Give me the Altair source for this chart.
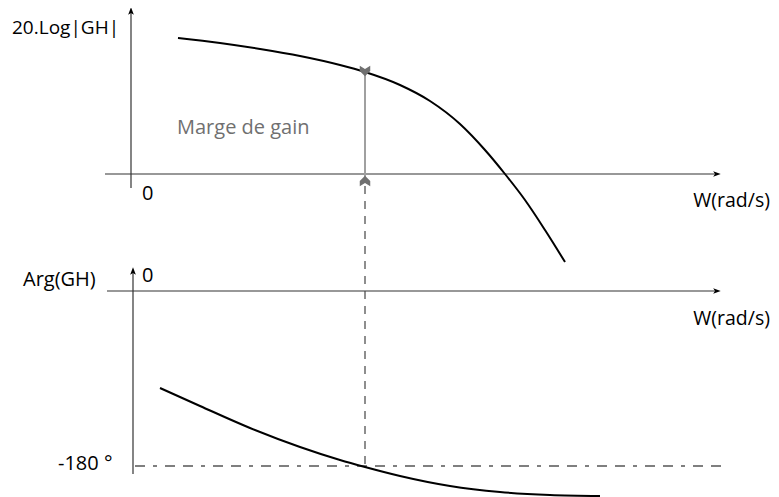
import altair as alt
import pandas as pd

# --- gain curve (top panel) (pixel-like units)
gain_x = [178, 220, 260, 300, 340, 365, 400, 430, 460, 485, 505, 525, 545, 565]
gain_y = [38, 43, 49, 56, 65, 72, 85, 101, 124, 150, 174, 200, 230, 262]

# --- phase curve (bottom panel)
phase_x = [160, 200, 250, 300, 340, 365, 400, 450, 500, 550, 600]
phase_y = [388, 406, 428, 447, 460, 467, 476, 486, 492, 495, 496]

# axis segments: x1, y1, x2, y2
axis_x1 = [105, 131, 107, 133]
axis_y1 = [174, 188, 291, 474]
axis_x2 = [716, 131, 716, 133]
axis_y2 = [174, 12, 291, 272]

# marge de gain (grey) segment
marge_x1 = [365]; marge_y1 = [72]; marge_x2 = [365]; marge_y2 = [182]
# dashed vertical
dash_x1 = [365]; dash_y1 = [186]; dash_x2 = [365]; dash_y2 = [466]
# -180 dash-dot line
ref_x1 = [135]; ref_y1 = [466]; ref_x2 = [726]; ref_y2 = [466]

# axis arrow heads
arrow_x = [716, 131, 716, 133]
arrow_y = [174, 12, 291, 272]
arrow_angle = [90, 0, 90, 0]

# labels (left-aligned)
lab_text = ["20.Log|GH|", "0", "Arg(GH)", "0", "-180 °"]
lab_x = [12, 142, 23, 142, 58]
lab_y = [28, 194, 280, 276, 464]
lab_size = [19, 20, 20, 20, 20]
# axis-end labels (right-aligned)
w_text = ["W(rad/s)", "W(rad/s)"]
w_x = [770, 770]
w_y = [201, 319]
marge_text = ["Marge de gain"]

X = alt.Scale(domain=[8, 771])
Y = alt.Scale(domain=[8, 497], reverse=True)


def seg(x1, y1, x2, y2):
    return pd.DataFrame({"x": x1, "y": y1, "x2": x2, "y2": y2})


def rules(df, color, width=1.2, dash=None):
    kw = dict(color=color, strokeWidth=width)
    if dash:
        kw["strokeDash"] = dash
    return alt.Chart(df).mark_rule(**kw).encode(
        x=alt.X("x:Q", scale=X, axis=None),
        y=alt.Y("y:Q", scale=Y, axis=None),
        x2="x2:Q", y2="y2:Q")


axes = rules(seg(axis_x1, axis_y1, axis_x2, axis_y2), "#333333", 1.2)
marge = rules(seg(marge_x1, marge_y1, marge_x2, marge_y2), "#a0a0a0", 2)
dashed = rules(seg(dash_x1, dash_y1, dash_x2, dash_y2), "#444444", 1.2, [8, 7])
ref = rules(seg(ref_x1, ref_y1, ref_x2, ref_y2), "#555555", 1.3, [10, 8, 4, 8, 10, 8])


def curve(xs, ys):
    return alt.Chart(pd.DataFrame({"x": xs, "y": ys, "o": range(len(xs))})).mark_line(
        color="black", strokeWidth=2, interpolate="monotone").encode(
        x=alt.X("x:Q", scale=X, axis=None),
        y=alt.Y("y:Q", scale=Y, axis=None), order="o:Q")


gain = curve(gain_x, gain_y)
phase = curve(phase_x, phase_y)

heads = alt.Chart(pd.DataFrame({"x": arrow_x, "y": arrow_y, "a": arrow_angle})).mark_point(
    shape="M0,-1 L0.6,0.6 L0,0.2 L-0.6,0.6 Z", filled=True, color="black", size=90, opacity=1
).encode(x=alt.X("x:Q", scale=X, axis=None), y=alt.Y("y:Q", scale=Y, axis=None),
         angle=alt.Angle("a:Q", scale=None))

# grey notched arrows on the gain margin segment
marge_heads = alt.Chart(pd.DataFrame({"x": [365, 365], "y": [71, 181], "a": [180, 0]})).mark_point(
    shape="M0,-1 L1,0 L1,1 L0,0.4 L-1,1 L-1,0 Z", filled=True, color="#707070", size=110, opacity=1
).encode(x=alt.X("x:Q", scale=X, axis=None), y=alt.Y("y:Q", scale=Y, axis=None),
         angle=alt.Angle("a:Q", scale=None))

labels = alt.Chart(pd.DataFrame({"t": lab_text, "x": lab_x, "y": lab_y, "s": lab_size})).mark_text(
    align="left", baseline="middle", font="Open Sans", color="black").encode(
    x=alt.X("x:Q", scale=X, axis=None), y=alt.Y("y:Q", scale=Y, axis=None), text="t:N",
    size=alt.Size("s:Q", scale=None, legend=None))

w_labels = alt.Chart(pd.DataFrame({"t": w_text, "x": w_x, "y": w_y})).mark_text(
    align="right", baseline="middle", font="Open Sans", fontSize=19.5, color="black").encode(
    x=alt.X("x:Q", scale=X, axis=None), y=alt.Y("y:Q", scale=Y, axis=None), text="t:N")

marge_lab = alt.Chart(pd.DataFrame({"t": marge_text, "x": [177], "y": [128]})).mark_text(
    align="left", baseline="middle", font="Open Sans", fontSize=20, color="#707070").encode(
    x=alt.X("x:Q", scale=X, axis=None), y=alt.Y("y:Q", scale=Y, axis=None), text="t:N")

chart = alt.layer(axes, marge, dashed, ref, gain, phase, heads, marge_heads,
                  labels, w_labels, marge_lab).properties(
    width=763, height=489, padding=0, autosize=alt.AutoSizeParams(type="none")
).configure_view(stroke=None)

chart.save("out.html", embed_options={"renderer": "svg", "actions": False})
